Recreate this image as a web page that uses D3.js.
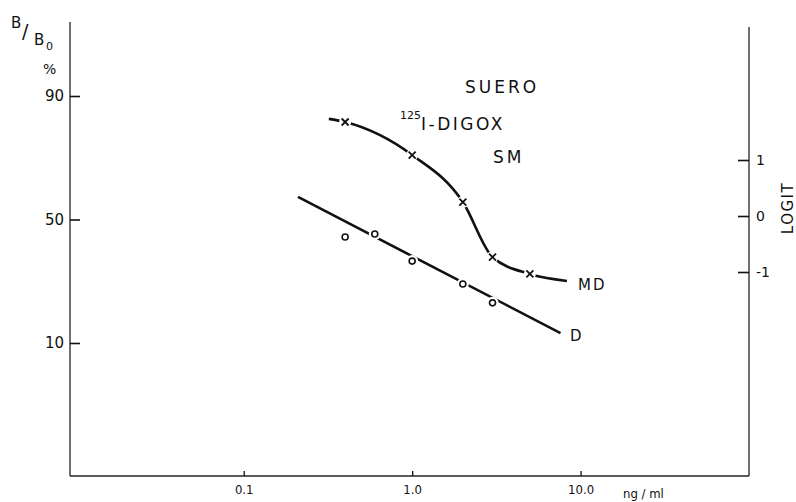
<!DOCTYPE html>
<html>
<head>
<meta charset="utf-8">
<script src="https://cdn.jsdelivr.net/npm/d3@7"></script>
<style>
body{margin:0;background:#fff;}
svg{display:block;}
text{font-family:"DejaVu Sans",sans-serif;fill:#111;}
.narrow{font-family:"Liberation Sans Narrow","DejaVu Sans Condensed",sans-serif;}
</style>
</head>
<body>
<div class="content"></div>
<script>
// curva D (circulos) - ng/ml y B/B0 %
var dConc=[0.4,0.6,1,2,3];
var dPct=[42.3,43.6,32.3,24.1,18.5];
// recta ajustada de D
var dLineConc=[0.21,7.6];
var dLinePct=[59.9,11.7];
// curva MD (cruces)
var mdConc=[0.4,1,2,3,5];
var mdPct=[85.0,75.9,57.7,33.9,27.5];
var mdCurveConc=[0.32,0.4,1,2,3,5,8.3];
var mdCurvePct=[85.7,85.0,75.9,57.7,33.9,27.5,25.1];
// ejes
var xTicks=[0.1,1,10];
var xTickLabels=["0.1","1.0","10.0"];
var yTicks=[90,50,10];
var logitTicks=[1,0,-1];

function logit(p){ p=p/100; return Math.log(p/(1-p)); }

drawChart();

function drawChart(){
	var width=796,height=502;
	var svg=d3.select(".content").append("svg")
		.attr("width",width)
		.attr("height",height);
	svg.append("rect").attr("width",width).attr("height",height).attr("fill","#fff");

	var left=70,right=749,bottom=476;
	var x=d3.scaleLog().domain([0.0093,100]).range([left,right]);
	//escala logit a la izquierda (en %)
	var y=d3.scaleLinear().domain([logit(10),logit(90)]).range([343,96]);
	//eje LOGIT a la derecha
	var yR=d3.scaleLinear().domain([-1,1]).range([272,160]);

	//marco
	var frame=svg.append("g").attr("stroke","#222").attr("stroke-width",1.3).attr("fill","none");
	frame.append("line").attr("x1",left).attr("y1",22).attr("x2",left).attr("y2",bottom);
	frame.append("line").attr("x1",left).attr("y1",bottom).attr("x2",right).attr("y2",bottom);
	frame.append("line").attr("x1",right).attr("y1",27).attr("x2",right).attr("y2",bottom);

	var yAxis=d3.axisLeft(y)
		.tickValues(yTicks.map(logit))
		.tickFormat(function(d,i){return yTicks[i];})
		.tickSize(-10).tickSizeOuter(0).tickPadding(6);
	var gy=svg.append("g").attr("transform","translate("+left+",0)").call(yAxis);
	gy.select(".domain").remove();
	gy.selectAll("line").attr("stroke","#111").attr("stroke-width",1.6);
	gy.selectAll("text").style("font-size","15px");

	var rAxis=d3.axisRight(yR)
		.tickValues(logitTicks)
		.tickFormat(function(d){return String(d);})
		.tickSize(-11).tickSizeOuter(0).tickPadding(7);
	var gr=svg.append("g").attr("transform","translate("+right+",0)").call(rAxis);
	gr.select(".domain").remove();
	gr.selectAll("line").attr("stroke","#111").attr("stroke-width",1.6);
	gr.selectAll("text").style("font-size","14px");

	var xAxis=d3.axisBottom(x)
		.tickValues(xTicks)
		.tickFormat(function(d,i){return xTickLabels[i];})
		.tickSize(-5).tickSizeOuter(0).tickPadding(9);
	var gx=svg.append("g").attr("transform","translate(0,"+bottom+")").call(xAxis);
	gx.select(".domain").remove();
	gx.selectAll("line").attr("stroke","#111").attr("stroke-width",1.3);
	gx.selectAll("text").attr("class","narrow").style("font-size","13px");

	svg.append("text").attr("class","narrow").attr("x",623).attr("y",498)
		.style("font-size","13px").text("ng / ml");

	//titulo del eje y
	svg.append("text").attr("x",11).attr("y",28).style("font-size","15px").text("B");
	svg.append("text").attr("x",22).attr("y",38).style("font-size","19px").text("/");
	svg.append("text").attr("x",34).attr("y",45).style("font-size","15px").text("B");
	svg.append("text").attr("x",46).attr("y",50).style("font-size","11px").text("0");
	svg.append("text").attr("x",43).attr("y",74).style("font-size","14px").text("%");

	svg.append("text")
		.attr("transform","translate(793,208) rotate(-90)")
		.attr("text-anchor","middle")
		.style("font-size","15px").style("letter-spacing","1.5px")
		.text("LOGIT");

	//leyenda
	svg.append("text").attr("x",465).attr("y",93).style("font-size","17px").style("letter-spacing","3px").text("SUERO");
	var t=svg.append("text").attr("x",400).attr("y",130).style("font-size","17px").style("letter-spacing","2.5px");
	t.append("tspan").attr("dy",-11).style("font-size","11px").style("letter-spacing","0px").text("125");
	t.append("tspan").attr("dy",11).text("I-DIGOX");
	svg.append("text").attr("x",493).attr("y",163).style("font-size","17px").style("letter-spacing","3px").text("SM");

	//curvas
	var line=d3.line()
		.x(function(d){return x(d[0]);})
		.y(function(d){return y(logit(d[1]));});

	svg.append("path")
		.datum(d3.zip(dLineConc,dLinePct))
		.attr("d",line)
		.attr("fill","none").attr("stroke","#111").attr("stroke-width",2.6);

	svg.append("path")
		.datum(d3.zip(mdCurveConc,mdCurvePct))
		.attr("d",line.curve(d3.curveMonotoneX))
		.attr("fill","none").attr("stroke","#111").attr("stroke-width",2.6);

	//huecos alrededor de los marcadores
	var dPts=d3.zip(dConc,dPct),mdPts=d3.zip(mdConc,mdPct);
	svg.append("g").selectAll("circle").data(dPts.concat(mdPts)).enter()
		.append("circle")
		.attr("cx",function(d){return x(d[0]);})
		.attr("cy",function(d){return y(logit(d[1]));})
		.attr("r",6).attr("fill","#fff");

	svg.append("g").selectAll("circle").data(dPts).enter()
		.append("circle")
		.attr("cx",function(d){return x(d[0]);})
		.attr("cy",function(d){return y(logit(d[1]));})
		.attr("r",3).attr("fill","#fff").attr("stroke","#111").attr("stroke-width",1.6);

	svg.append("g").selectAll("path").data(mdPts).enter()
		.append("path")
		.attr("transform",function(d){return "translate("+x(d[0])+","+y(logit(d[1]))+")";})
		.attr("d","M-3.5,-3.5L3.5,3.5M3.5,-3.5L-3.5,3.5")
		.attr("stroke","#111").attr("stroke-width",1.8);

	svg.append("text").attr("x",578).attr("y",290).style("font-size","15px").style("letter-spacing","2px").text("MD");
	svg.append("text").attr("x",570).attr("y",341).style("font-size","15px").text("D");
}
</script>
</body>
</html>
